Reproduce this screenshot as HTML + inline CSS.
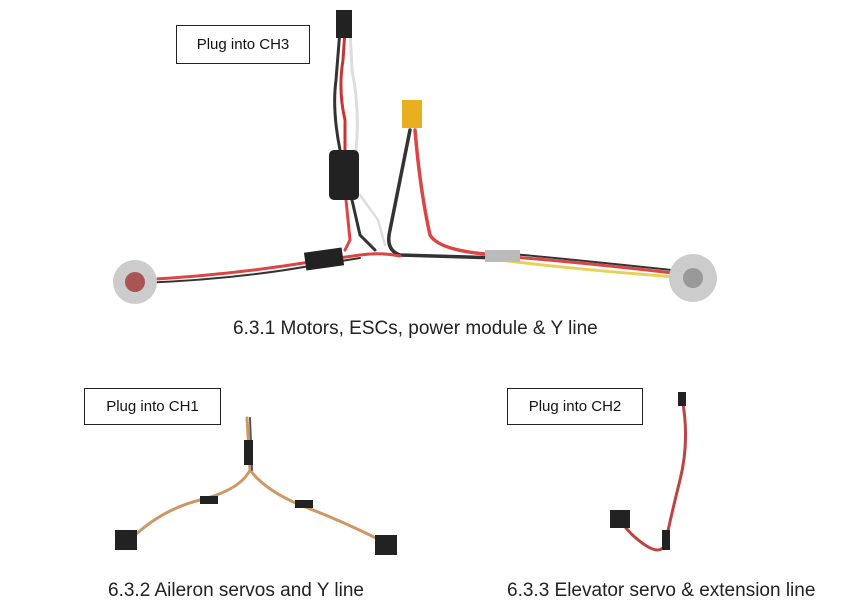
<!DOCTYPE html>
<html><head><meta charset="utf-8"><style>
html,body{margin:0;padding:0;background:#fff;}
body{width:849px;height:610px;position:relative;overflow:hidden;font-family:"Liberation Sans","Noto Sans CJK SC",sans-serif;}
.box{position:absolute;border:1.5px solid #222;background:#fff;font-size:15px;color:#111;display:flex;align-items:center;justify-content:center;box-sizing:border-box;}
.cap{position:absolute;font-size:19px;color:#222;white-space:nowrap;}
svg{position:absolute;left:0;top:0;}
</style></head><body>
<svg width="849" height="610" viewBox="0 0 849 610">
<g fill="none" stroke-linecap="round">
<path d="M345 30 L343 60 Q338 90 345 120 L345 150" stroke="#c33" stroke-width="3"/>
<path d="M350 30 L352 70 Q360 110 356 150" stroke="#ddd" stroke-width="3"/>
<path d="M340 30 L336 80 Q332 110 340 150" stroke="#333" stroke-width="3"/>
<path d="M352 200 L360 235 L375 250" stroke="#333" stroke-width="3"/>
<path d="M346 200 L350 240 L345 250" stroke="#d44" stroke-width="3"/>
<path d="M360 195 L378 220 L385 245" stroke="#ddd" stroke-width="2.5"/>
<path d="M410 130 Q400 180 390 230 Q385 250 400 255 L500 258" stroke="#333" stroke-width="3.5"/>
<path d="M415 130 Q420 190 430 235 Q440 252 500 255" stroke="#d44" stroke-width="3.5"/>
<path d="M140 280 Q230 275 310 262 L360 255 Q380 252 400 256" stroke="#d44" stroke-width="3"/>
<path d="M140 283 Q230 280 310 266 L360 258" stroke="#333" stroke-width="2"/>
<path d="M500 256 Q580 262 690 275" stroke="#d44" stroke-width="3"/>
<path d="M500 260 Q580 270 690 278" stroke="#e6d25a" stroke-width="3"/>
<path d="M500 253 Q560 258 690 272" stroke="#333" stroke-width="2"/>
</g>
<rect x="336" y="10" width="16" height="28" fill="#222"/>
<rect x="329" y="150" width="30" height="50" rx="5" fill="#222"/>
<rect x="402" y="100" width="20" height="28" fill="#e8b020"/>
<rect x="305" y="250" width="38" height="18" fill="#222" transform="rotate(-8 324 259)"/>
<rect x="485" y="250" width="35" height="12" fill="#bbb"/>
<circle cx="135" cy="282" r="22" fill="#ccc"/>
<circle cx="135" cy="282" r="10" fill="#a55"/>
<circle cx="693" cy="278" r="24" fill="#ccc"/>
<circle cx="693" cy="278" r="10" fill="#999"/>
<g fill="none" stroke-linecap="round">
<path d="M247 418 L250 470 Q240 490 200 500 Q160 510 130 540" stroke="#c96" stroke-width="3"/>
<path d="M250 470 Q265 490 300 505 Q340 520 380 540" stroke="#c96" stroke-width="3"/>
<path d="M250 418 L252 470" stroke="#555" stroke-width="2"/>
<path d="M682 398 Q690 440 680 480 Q670 520 665 545 Q660 555 645 545 Q630 535 620 520" stroke="#b44" stroke-width="3"/>
</g>
<rect x="244" y="440" width="9" height="25" fill="#222"/>
<rect x="115" y="530" width="22" height="20" fill="#222"/>
<rect x="375" y="535" width="22" height="20" fill="#222"/>
<rect x="200" y="496" width="18" height="8" fill="#222"/>
<rect x="295" y="500" width="18" height="8" fill="#222"/>
<rect x="678" y="392" width="8" height="14" fill="#222"/>
<rect x="610" y="510" width="20" height="18" fill="#222"/>
<rect x="662" y="530" width="8" height="20" fill="#222"/>
</svg>
<div class="box" style="left:176px;top:25px;width:134px;height:39px;">Plug into CH3</div>
<div class="box" style="left:84px;top:388px;width:137px;height:37px;">Plug into CH1</div>
<div class="box" style="left:507px;top:388px;width:136px;height:37px;">Plug into CH2</div>
<div class="cap" style="left:233px;top:318px;">6.3.1 Motors, ESCs, power module &amp; Y line</div>
<div class="cap" style="left:108px;top:580px;">6.3.2 Aileron servos and Y line</div>
<div class="cap" style="left:507px;top:580px;">6.3.3 Elevator servo &amp; extension line</div>
</body></html>
